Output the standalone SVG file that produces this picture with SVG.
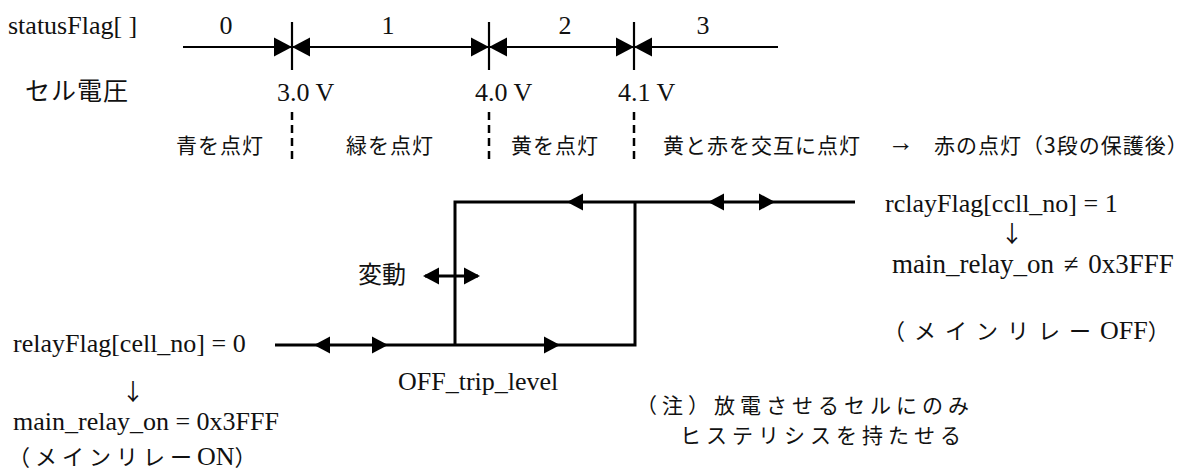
<svg xmlns="http://www.w3.org/2000/svg" width="1187" height="472" viewBox="0 0 1187 472">
<defs>
<style>
.lat{font-family:"Liberation Serif","Times New Roman",serif;font-size:26px;fill:#111}
.jp{font-family:"Noto Sans CJK JP","Noto Sans CJK SC",sans-serif;fill:#111}
.s1{font-size:21px;letter-spacing:1px}
.s2{font-size:21px;letter-spacing:5px}
.s3{font-size:22px;letter-spacing:5px}
.arr{font-family:"Noto Sans CJK JP",sans-serif;font-size:23px;fill:#111;text-anchor:middle}
.mid{text-anchor:middle}
.ln{stroke:#000;fill:none;stroke-width:2.2}
.hl{stroke:#000;fill:none;stroke-width:3}
.dash{stroke:#000;fill:none;stroke-width:2.5;stroke-dasharray:8 5}
</style>
<path id="ah" d="M0,0 L-16,-8.5 L-16,8.5 Z" fill="#000"/>
<path id="ahs" d="M0,0 L-18,-9.5 L-18,9.5 Z" fill="#000"/>
</defs>
<rect width="1187" height="472" fill="#fff"/>

<g id="scale">
<line class="ln" x1="183" y1="47" x2="778" y2="47"/>
<line class="ln" x1="292" y1="22" x2="292" y2="70"/>
<line class="ln" x1="489" y1="22" x2="489" y2="70"/>
<line class="ln" x1="634" y1="22" x2="634" y2="70"/>
<use href="#ahs" transform="translate(292,47)"/>
<use href="#ahs" transform="translate(292,47) rotate(180)"/>
<use href="#ahs" transform="translate(489,47)"/>
<use href="#ahs" transform="translate(489,47) rotate(180)"/>
<use href="#ahs" transform="translate(634,47)"/>
<use href="#ahs" transform="translate(634,47) rotate(180)"/>
<line class="dash" x1="292" y1="112" x2="292" y2="164"/>
<line class="dash" x1="489" y1="112" x2="489" y2="164"/>
<line class="dash" x1="634" y1="112" x2="634" y2="164"/>
</g>

<g id="scale-labels">
<text class="lat" x="8" y="34">statusFlag[ ]</text>
<text class="lat mid" x="226" y="34">0</text>
<text class="lat mid" x="388" y="34">1</text>
<text class="lat mid" x="565" y="34">2</text>
<text class="lat mid" x="703" y="34">3</text>
<text class="jp" x="25" y="100" font-size="25" letter-spacing="1">セル電圧</text>
<text class="lat" x="277" y="101">3.0 V</text>
<text class="lat" x="475" y="101">4.0 V</text>
<text class="lat" x="618" y="101">4.1 V</text>
</g>

<g id="led-labels">
<text class="jp s1" x="176" y="153">青を点灯</text>
<text class="jp s1" x="346" y="153">緑を点灯</text>
<text class="jp s1" x="511" y="153">黄を点灯</text>
<text class="jp s1" x="663" y="153">黄と赤を交互に点灯</text>
<text class="lat" x="888" y="151" font-size="20">→</text>
<text class="jp s1" x="934" y="153">赤の点灯（3段の保護後）</text>
</g>

<g id="connectors">
<polyline class="hl" points="275,345 635,345 635,202"/>
<polyline class="hl" points="855,202 455,202 455,345"/>
<line class="hl" x1="425" y1="276" x2="478" y2="276"/>
<use href="#ah" transform="translate(567,202) rotate(180)"/>
<use href="#ah" transform="translate(708,202) rotate(180)"/>
<use href="#ah" transform="translate(775,202)"/>
<use href="#ah" transform="translate(423,276) rotate(180)"/>
<use href="#ah" transform="translate(480,276)"/>
<use href="#ah" transform="translate(314,345) rotate(180)"/>
<use href="#ah" transform="translate(388,345)"/>
<use href="#ah" transform="translate(560,345)"/>
</g>

<g id="node-variation">
<text class="jp" x="358" y="283" font-size="24">変動</text>
</g>

<g id="node-relay-on">
<text class="lat" x="13" y="352">relayFlag[cell_no] = 0</text>
<text class="arr" x="133" y="400">↓</text>
<text class="lat" x="13" y="430">main_relay_on = 0x3FFF</text>
<text class="jp s3" x="8" y="465">（メインリレー<tspan class="lat" style="letter-spacing:0">ON</tspan>）</text>
</g>

<g id="node-relay-off">
<text class="lat" x="885" y="212">rclayFlag[ccll_no] = 1</text>
<text class="arr" x="1012" y="242">↓</text>
<text class="lat" x="892" y="273" style="font-size:27px;word-spacing:3px">main_relay_on ≠ 0x3FFF</text>
<text class="jp s3" x="883" y="339" style="letter-spacing:9px">（メインリレー<tspan class="lat" style="letter-spacing:0">OFF</tspan><tspan style="letter-spacing:0">）</tspan></text>
</g>

<g id="node-trip">
<text class="lat" x="398" y="390">OFF_trip_level</text>
</g>

<g id="node-note">
<text class="jp s2" x="636" y="413">（注）放電させるセルにのみ</text>
<text class="jp s2" x="680" y="443">ヒステリシスを持たせる</text>
</g>
</svg>
